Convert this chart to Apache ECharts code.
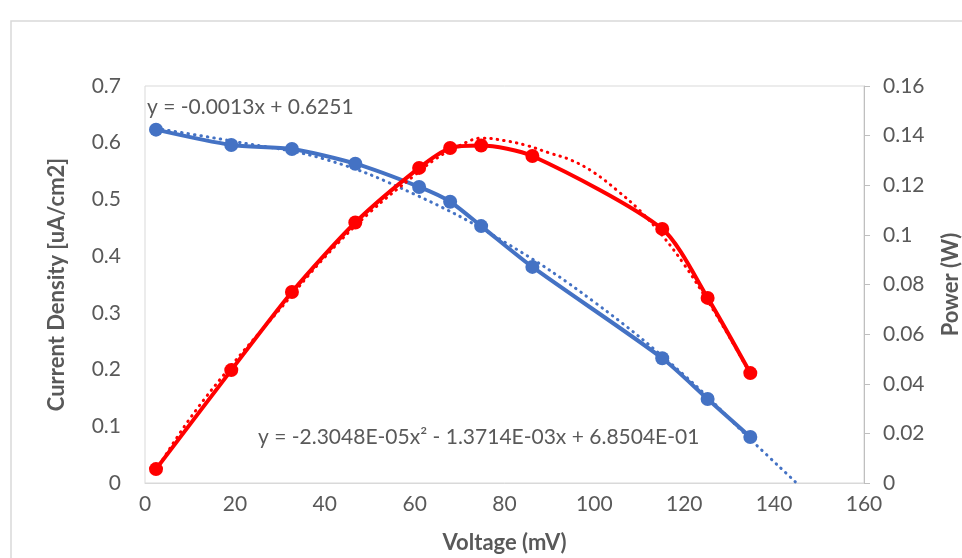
<!DOCTYPE html>
<html>
<head>
<meta charset="utf-8">
<script src="https://cdn.jsdelivr.net/npm/echarts@6/dist/echarts.min.js"></script>
<style>
  html, body { margin: 0; padding: 0; background: #fff; }
  #chart { width: 962px; height: 558px; }
</style>
</head>
<body>
<div id="chart"></div>
<script>
// measured points (voltage mV)
var voltage = [2.45, 19.2, 32.7, 46.8, 61.0, 67.9, 74.8, 86.2, 115.1, 125.2, 134.7];
var currentDensity = [0.623, 0.596, 0.589, 0.563, 0.522, 0.496, 0.453, 0.381, 0.220, 0.148, 0.081];
var power = [0.0056, 0.0455, 0.077, 0.105, 0.127, 0.135, 0.136, 0.1318, 0.1024, 0.0746, 0.0443];

// trendlines
var currentTrendX = [2.45, 20, 40, 60, 80, 100, 120, 135, 145];
var currentTrendY = [0.625, 0.602, 0.571, 0.509, 0.425, 0.319, 0.190, 0.075, 0.0];
var powerTrendX = [2.45, 10, 20, 30, 40, 50, 60, 65, 70, 75, 80, 85, 90, 95, 100, 105, 110, 115, 120, 125, 130, 134.7];
var powerTrendY = [0.005, 0.026, 0.049, 0.070, 0.091, 0.109, 0.124, 0.131, 0.136, 0.139, 0.138, 0.136, 0.133, 0.130, 0.125, 0.118, 0.110, 0.100, 0.088, 0.074, 0.059, 0.044];

var xTicks = { min: 0, max: 160, interval: 20 };
var leftTicks = { min: 0, max: 0.7, interval: 0.1 };
var rightTicks = { min: 0, max: 0.16, interval: 0.02 };

var eqLinear = 'y = -0.0013x + 0.6251';
var eqPoly = 'y = -2.3048E-05x² - 1.3714E-03x + 6.8504E-01';

function pairs (xs, ys) {
  var out = [];
  for (var i = 0; i < xs.length; i++) {
    out.push([xs[i], ys[i]]);
  }
  return out;
}

var FONT = 'Lato, "Open Sans", sans-serif';
var TXT = '#595959';
var BLUE = '#4472C4';
var RED = '#FF0000';

var chart = echarts.init(document.getElementById('chart'));
chart.setOption({
  animation: false,
  backgroundColor: '#fff',
  textStyle: { fontFamily: FONT },
  grid: {
    left: 145, right: 98, top: 86, bottom: 75,
    outerBoundsMode: 'none',
    containLabel: false,
    show: true, borderColor: '#d9d9d9', borderWidth: 1
  },
  xAxis: {
    type: 'value',
    min: xTicks.min, max: xTicks.max, interval: xTicks.interval,
    name: 'Voltage (mV)',
    nameLocation: 'middle',
    nameGap: 49,
    nameTextStyle: { color: TXT, fontSize: 22, fontWeight: 'bold', fontFamily: FONT },
    axisLine: { show: true, lineStyle: { color: '#d9d9d9', width: 1 } },
    axisTick: { show: false },
    splitLine: { show: false },
    axisLabel: { color: TXT, fontSize: 21, margin: 11, fontFamily: FONT }
  },
  yAxis: [{
    type: 'value',
    min: leftTicks.min, max: leftTicks.max, interval: leftTicks.interval,
    name: 'Current Density [uA/cm2]',
    nameLocation: 'middle',
    nameGap: 77,
    nameTextStyle: { color: TXT, fontSize: 22, fontWeight: 'bold', fontFamily: FONT },
    axisLine: { show: false },
    axisTick: { show: false },
    splitLine: { show: false },
    axisLabel: { color: TXT, fontSize: 21, margin: 24, fontFamily: FONT }
  }, {
    type: 'value',
    position: 'right',
    min: rightTicks.min, max: rightTicks.max, interval: rightTicks.interval,
    name: 'Power (W)',
    nameLocation: 'middle',
    nameGap: 76,
    nameRotate: 90,
    nameTextStyle: { color: TXT, fontSize: 22, fontWeight: 'bold', fontFamily: FONT },
    axisLine: { show: true, lineStyle: { color: '#bfbfbf', width: 1 } },
    axisTick: { show: true, inside: false, length: 6, lineStyle: { color: '#bfbfbf' } },
    splitLine: { show: false },
    axisLabel: { color: TXT, fontSize: 21, margin: 19, fontFamily: FONT }
  }],
  graphic: [
    {
      type: 'rect', silent: true, z: -10,
      shape: { x: 11, y: 21, width: 1000, height: 600 },
      style: { fill: 'none', stroke: '#d9d9d9', lineWidth: 1.5 }
    },
    {
      type: 'text', left: 147, top: 97,
      style: { text: eqLinear, fill: TXT, font: '21px ' + FONT }
    },
    {
      type: 'text', left: 258, top: 427,
      style: { text: eqPoly, fill: TXT, font: '21px ' + FONT }
    }
  ],
  series: [
    {
      name: 'Current Density',
      type: 'line',
      yAxisIndex: 0,
      data: pairs(voltage, currentDensity),
      smooth: 0.25,
      symbol: 'circle',
      symbolSize: 14,
      lineStyle: { color: BLUE, width: 4 },
      itemStyle: { color: BLUE },
      z: 3
    },
    {
      name: 'Current trend',
      type: 'line',
      yAxisIndex: 0,
      data: pairs(currentTrendX, currentTrendY),
      smooth: 0.4,
      symbol: 'none',
      lineStyle: { color: BLUE, width: 3, type: [0.5, 6], cap: 'round' },
      z: 2
    },
    {
      name: 'Power',
      type: 'line',
      yAxisIndex: 1,
      data: pairs(voltage, power),
      smooth: 0.25,
      symbol: 'circle',
      symbolSize: 14,
      lineStyle: { color: RED, width: 4 },
      itemStyle: { color: RED },
      z: 5
    },
    {
      name: 'Power trend',
      type: 'line',
      yAxisIndex: 1,
      data: pairs(powerTrendX, powerTrendY),
      smooth: 0.4,
      symbol: 'none',
      lineStyle: { color: RED, width: 3, type: [0.5, 6], cap: 'round' },
      z: 4
    }
  ]
});
</script>
</body>
</html>
